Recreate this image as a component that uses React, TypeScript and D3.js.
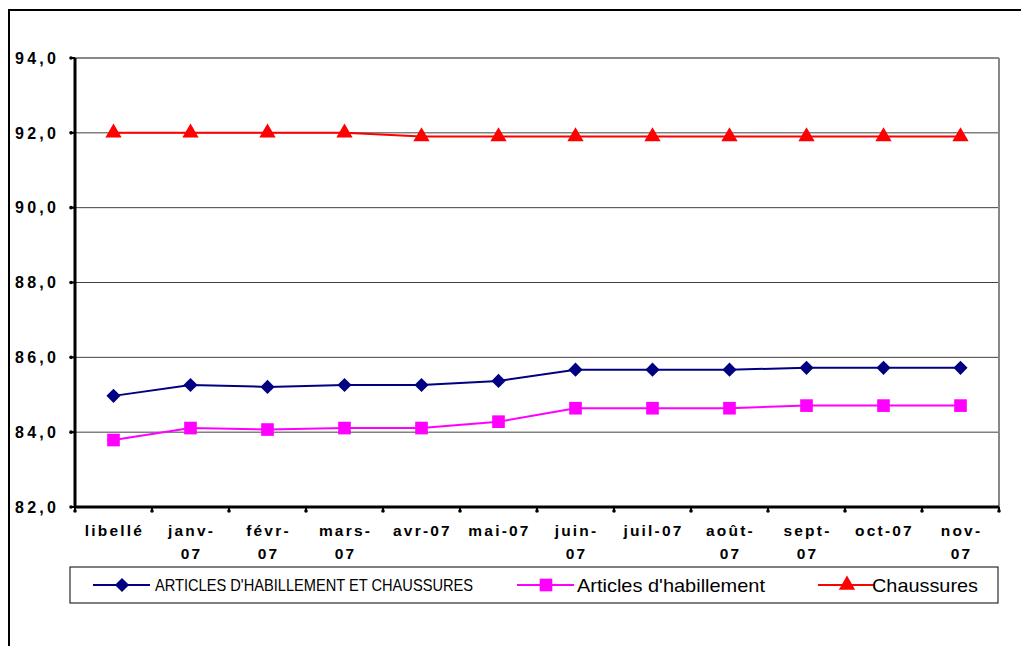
import * as d3 from "d3";

const categories = [
  "libellé", "janv-07", "févr-07", "mars-07", "avr-07", "mai-07",
  "juin-07", "juil-07", "août-07", "sept-07", "oct-07", "nov-07",
];
// how each category label is wrapped on the axis
const categoryLines = [
  ["libellé"], ["janv-", "07"], ["févr-", "07"], ["mars-", "07"], ["avr-07"], ["mai-07"],
  ["juin-", "07"], ["juil-07"], ["août-", "07"], ["sept-", "07"], ["oct-07"], ["nov-", "07"],
];
const ensemble = [84.97, 85.26, 85.21, 85.26, 85.26, 85.37, 85.67, 85.67, 85.67, 85.72, 85.72, 85.72];
const habillement = [83.79, 84.11, 84.07, 84.11, 84.11, 84.28, 84.64, 84.64, 84.64, 84.71, 84.71, 84.71];
const chaussures = [92.0, 92.0, 92.0, 92.0, 91.9, 91.9, 91.9, 91.9, 91.9, 91.9, 91.9, 91.9];
const yTicks = [82, 84, 86, 88, 90, 92, 94];

const W = 1021;
const H = 646;
const plot = { left: 75, right: 999, top: 58, bottom: 507 };

const x = d3.scaleBand<string>().domain(categories).range([plot.left, plot.right]);
const y = d3.scaleLinear().domain([82, 94]).range([plot.bottom, plot.top]);

const series = [
  { name: "ARTICLES D'HABILLEMENT ET CHAUSSURES", values: ensemble, color: "#000080", marker: "diamond" },
  { name: "Articles d'habillement", values: habillement, color: "#FF00FF", marker: "square" },
  { name: "Chaussures", values: chaussures, color: "#FF0000", marker: "triangle" },
];

const symbolFor = (m: string) =>
  m === "diamond"
    ? d3.symbol().type(d3.symbolDiamond2).size(128)()
    : m === "square"
      ? d3.symbol().type(d3.symbolSquare).size(160)()
      : d3.symbol().type(d3.symbolTriangle).size(115)();

const fmt = (v: number) => v.toFixed(1).replace(".", ",");

const cx = (i: number) => (x(categories[i]) as number) + x.bandwidth() / 2;

const line = d3
  .line<number>()
  .x((_, i) => cx(i))
  .y((d) => y(d));

export default function App() {
  const boundaries = d3.range(categories.length + 1).map((i) => plot.left + i * x.step());

  return (
    <svg
      width={W}
      height={H}
      style={{ position: "absolute", left: 0, top: 0, background: "#fff" }}
      fontFamily="'Liberation Sans', Arial, sans-serif"
    >
      {/* outer frame */}
      <path d={`M9,${H + 5}V10H${W + 5}`} fill="none" stroke="#000" strokeWidth={2} />

      {/* grid */}
      {yTicks.slice(1, -1).map((t) => (
        <line key={t} x1={plot.left} x2={plot.right} y1={y(t)} y2={y(t)} stroke="#404040" strokeWidth={1} />
      ))}
      <line x1={plot.left} x2={plot.right} y1={y(94)} y2={y(94)} stroke="#888" strokeWidth={2} />
      <line x1={plot.right} x2={plot.right} y1={y(94)} y2={plot.bottom} stroke="#888" strokeWidth={2} />

      {/* y axis */}
      <line x1={plot.left} x2={plot.left} y1={y(94)} y2={plot.bottom} stroke="#000" strokeWidth={3} />
      {yTicks.map((t) => (
        <g key={t}>
          <line x1={plot.left - 4} x2={plot.left} y1={y(t)} y2={y(t)} stroke="#000" strokeWidth={2} />
          <circle cx={plot.left - 4} cy={y(t)} r={1.8} fill="#000" />
          <text
            x={plot.left - 16}
            y={y(t)}
            dy="0.36em"
            textAnchor="end"
            fontSize={16}
            fontWeight="bold"
            letterSpacing={3.2}
          >
            {fmt(t)}
          </text>
        </g>
      ))}

      {/* x axis */}
      <line x1={plot.left} x2={plot.right} y1={plot.bottom} y2={plot.bottom} stroke="#000" strokeWidth={3} />
      {boundaries.map((bx, i) => (
        <g key={i}>
          <line x1={bx} x2={bx} y1={plot.bottom} y2={plot.bottom + 4} stroke="#000" strokeWidth={2} />
          <circle cx={bx} cy={plot.bottom + 4} r={1.8} fill="#000" />
        </g>
      ))}
      {categories.map((c, i) => (
        <text
          key={c}
          x={cx(i) + 1}
          y={536}
          textAnchor="middle"
          fontSize={15.5}
          fontWeight="bold"
          letterSpacing={2.2}
        >
          {categoryLines[i].map((l, j) => (
            <tspan key={j} x={cx(i) + 1} dy={j === 0 ? 0 : 22.5}>
              {l}
            </tspan>
          ))}
        </text>
      ))}

      {/* series */}
      {series.map((s) => (
        <g key={s.name}>
          <path d={line(s.values) ?? ""} fill="none" stroke={s.color} strokeWidth={2} />
          {s.values.map((v, i) => (
            <path
              key={i}
              d={symbolFor(s.marker) ?? ""}
              transform={`translate(${cx(i)},${y(v)})`}
              fill={s.color}
            />
          ))}
        </g>
      ))}

      {/* legend */}
      <rect x={70} y={567} width={928} height={36} fill="#fff" stroke="#000" strokeWidth={1} />
      {[
        { lx: 93, tx: 155, fs: 17, len: 318 },
        { lx: 517, tx: 577, fs: 19, len: 188 },
        { lx: 818, tx: 872, fs: 19, len: 106 },
      ].map((p, i) => (
        <g key={i}>
          <line x1={p.lx} x2={p.lx + 57} y1={585} y2={585} stroke={series[i].color} strokeWidth={2} />
          <path
            d={symbolFor(series[i].marker) ?? ""}
            transform={`translate(${p.lx + 29},585)`}
            fill={series[i].color}
          />
          <text
            x={p.tx}
            y={585}
            dy="0.36em"
            fontSize={p.fs}
            textLength={p.len}
            lengthAdjust="spacingAndGlyphs"
          >
            {series[i].name}
          </text>
        </g>
      ))}
    </svg>
  );
}
